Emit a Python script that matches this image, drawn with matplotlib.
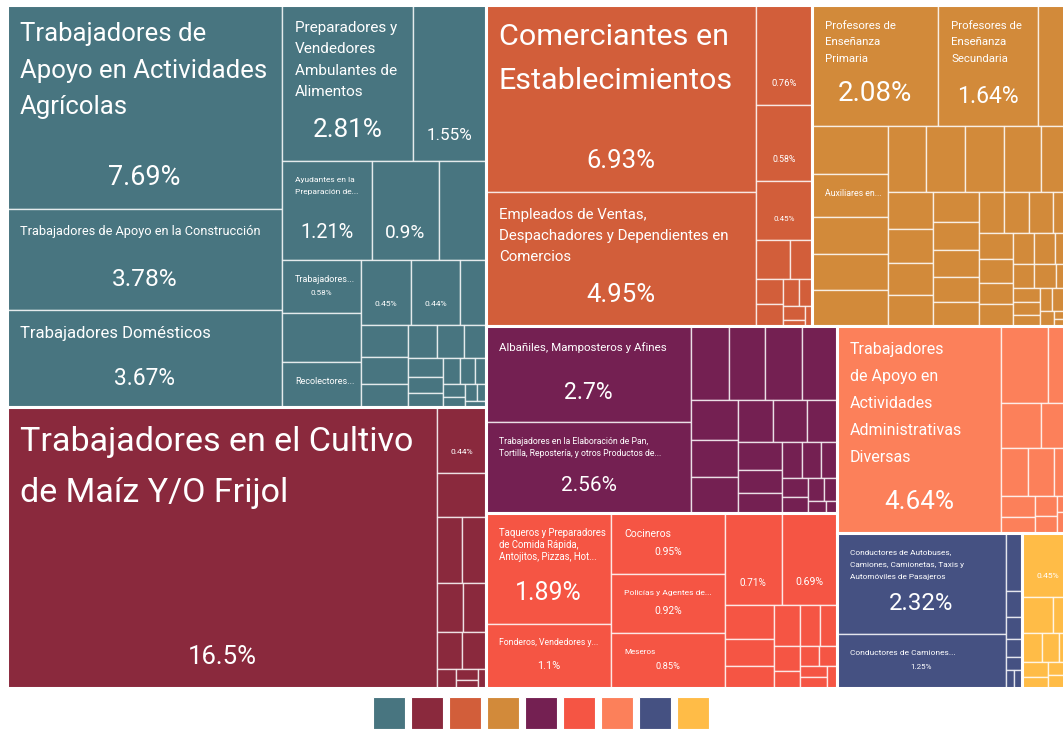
import matplotlib
matplotlib.use("Agg")
import matplotlib.pyplot as plt
from matplotlib.patches import Rectangle

# share of workers by occupation (%), one list per group, largest first
teal_values = [7.69, 3.78, 3.67, 2.81, 1.55, 1.21, 0.90, 0.64, 0.58, 0.53, 0.49, 0.45, 0.44,
               0.23, 0.20, 0.17, 0.15, 0.13, 0.12, 0.10, 0.09, 0.08, 0.07, 0.06, 0.05, 0.04,
               0.04, 0.03, 0.03, 0.02, 0.02]
teal_labels = ["Trabajadores de\nApoyo en Actividades\nAgrícolas",
               "Trabajadores de Apoyo en la Construcción",
               "Trabajadores Domésticos",
               "Preparadores y\nVendedores\nAmbulantes de\nAlimentos",
               "", "Ayudantes en la\nPreparación de...", "", "", "Trabajadores...", "",
               "Recolectores..."]

maiz_values = [16.5, 0.44, 0.30, 0.23, 0.21, 0.18, 0.155, 0.13, 0.12, 0.05, 0.03, 0.025, 0.02]
maiz_labels = ["Trabajadores en el Cultivo\nde Maíz Y/O Frijol"]

comercio_values = [6.93, 4.95, 0.76, 0.58, 0.45, 0.18, 0.12, 0.09, 0.08, 0.06, 0.05, 0.04,
                   0.02, 0.02]
comercio_labels = ["Comerciantes en\nEstablecimientos",
                   "Empleados de Ventas,\nDespachadores y Dependientes en\nComercios"]

profes_values = [2.08, 1.64, 0.60, 0.50, 0.45, 0.38, 0.38, 0.37, 0.35, 0.35, 0.35, 0.34, 0.30,
                 0.23, 0.21, 0.20, 0.19, 0.19, 0.18, 0.17, 0.16, 0.15, 0.14, 0.14, 0.13, 0.12,
                 0.12, 0.11, 0.10, 0.10, 0.09, 0.09, 0.08, 0.07, 0.07, 0.06, 0.05, 0.05, 0.04,
                 0.04, 0.04, 0.03, 0.03, 0.02, 0.02]
profes_labels = ["Profesores de\nEnseñanza\nPrimaria", "Profesores de\nEnseñanza\nSecundaria",
                 "", "", "Auxiliares en..."]

albanil_values = [2.7, 2.56, 0.38, 0.37, 0.37, 0.36, 0.25, 0.24, 0.23, 0.20, 0.19, 0.17, 0.17,
                  0.14, 0.12, 0.10, 0.09, 0.08, 0.07, 0.06, 0.05, 0.04, 0.03, 0.02]
albanil_labels = ["Albañiles, Mamposteros y Afines",
                  "Trabajadores en la Elaboración de Pan,\nTortilla, Repostería, y otros Productos de..."]

comida_values = [1.89, 1.1, 0.95, 0.92, 0.85, 0.71, 0.69, 0.23, 0.18, 0.15, 0.15, 0.11, 0.10,
                 0.09, 0.06, 0.05, 0.05, 0.04, 0.04, 0.03]
comida_labels = ["Taqueros y Preparadores\nde Comida Rápida,\nAntojitos, Pizzas, Hot...",
                 "Fonderos, Vendedores y...", "Cocineros", "Policías y Agentes de...", "Meseros"]

admin_values = [4.64, 0.50, 0.27, 0.25, 0.20, 0.18, 0.17, 0.13, 0.10, 0.08, 0.06, 0.05, 0.04,
                0.03, 0.02]
admin_labels = ["Trabajadores\nde Apoyo en\nActividades\nAdministrativas\nDiversas"]

conduct_values = [2.32, 1.25, 0.13, 0.06, 0.05, 0.04, 0.03, 0.02, 0.02]
conduct_labels = ["Conductores de Autobuses,\nCamiones, Camionetas, Taxis y\nAutomóviles de Pasajeros",
                  "Conductores de Camiones..."]

otros_values = [0.45, 0.15, 0.10, 0.08, 0.07, 0.06, 0.05, 0.04, 0.03, 0.03, 0.02, 0.01]
otros_labels = [""]

colors = ["#487580", "#8A293D", "#D25E3A", "#D28A3A", "#742052",
          "#F55544", "#FC805A", "#455182", "#FFBC47"]

groups = [(teal_values, teal_labels), (maiz_values, maiz_labels),
          (comercio_values, comercio_labels), (profes_values, profes_labels),
          (albanil_values, albanil_labels), (comida_values, comida_labels),
          (admin_values, admin_labels), (conduct_values, conduct_labels),
          (otros_values, otros_labels)]

# (group, leaf) -> (name size px, line step px, percent size px); None = not drawn
label_style = {
    (0, 0): (25.8, 36.5, 27), (0, 1): (12.7, 0, 24.5), (0, 2): (16.6, 0, 22.8),
    (0, 3): (15.2, 21.3, 26), (0, 4): (None, 0, 17), (0, 5): (8.4, 12, 20),
    (0, 6): (None, 0, 19), (0, 8): (9, 0, 8), (0, 10): (9, 0, None),
    (0, 11): (None, 0, 8.5), (0, 12): (None, 0, 8.5),
    (1, 0): (34, 51, 25.8), (1, 1): (None, 0, 8.5),
    (2, 0): (30.5, 44, 25.8), (2, 1): (15, 21, 25.8), (2, 2): (None, 0, 9.5),
    (2, 3): (None, 0, 8.8), (2, 4): (None, 0, 8),
    (3, 0): (11.4, 16.5, 27.7), (3, 1): (11.4, 16.5, 23), (3, 4): (8.8, 0, None),
    (4, 0): (11.5, 0, 23), (4, 1): (8.7, 12.5, 20.8),
    (5, 0): (9.7, 12, 25), (5, 1): (8.7, 0, 11), (5, 2): (10.4, 0, 10.3),
    (5, 3): (8.5, 0, 10.3), (5, 4): (8.2, 0, 9.3), (5, 5): (None, 0, 10),
    (5, 6): (None, 0, 10.5),
    (6, 0): (16, 27, 26),
    (7, 0): (8.3, 12.5, 24), (7, 1): (8.4, 0, 8),
    (8, 0): (None, 0, 8.5),
}

PHI = (1 + 5 ** 0.5) / 2


def squarify(values, x0, y0, x1, y1, ratio=PHI):
    # same row rule as d3.treemapSquarify
    rects = []
    n = len(values)
    total = float(sum(values))
    i0 = i1 = 0
    while i0 < n:
        dx, dy = x1 - x0, y1 - y0
        s = values[i1]
        i1 += 1
        vmin = vmax = s
        alpha = max(dy / dx, dx / dy) / (total * ratio)
        beta = s * s * alpha
        best = max(vmax / beta, beta / vmin)
        while i1 < n:
            v = values[i1]
            s += v
            vmin, vmax = min(vmin, v), max(vmax, v)
            beta = s * s * alpha
            r = max(vmax / beta, beta / vmin)
            if r > best:
                s -= v
                break
            best = r
            i1 += 1
        row = values[i0:i1]
        if dx < dy:
            yb = y0 + dy * s / total
            xx = x0
            for v in row:
                rects.append((xx, y0, xx + dx * v / s, yb))
                xx += dx * v / s
            y0 = yb
        else:
            xb = x0 + dx * s / total
            yy = y0
            for v in row:
                rects.append((x0, yy, xb, yy + dy * v / s))
                yy += dy * v / s
            x0 = xb
        total -= s
        i0 = i1
    return rects


W, H = 1063, 729
fig = plt.figure(figsize=(W / 100, H / 100), dpi=100)
ax = fig.add_axes([0, 0, 1, 1])
ax.set_xlim(0, W)
ax.set_ylim(H, 0)
ax.axis("off")

FONT = ["Roboto", "DejaVu Sans"]
PX = 0.72  # px -> pt at 100 dpi

box = (7, 5, 1074, 688)
totals = [sum(v) for v, _ in groups]
order = sorted(range(len(groups)), key=lambda g: -totals[g])
group_rects = squarify([totals[g] for g in order], *box)

for g, (gx0, gy0, gx1, gy1) in zip(order, group_rects):
    vals, names = groups[g]
    idx = sorted(range(len(vals)), key=lambda i: -vals[i])
    leaf_rects = squarify([vals[i] for i in idx], gx0, gy0, gx1, gy1)
    for i, (x0, y0, x1, y1) in zip(idx, leaf_rects):
        ax.add_patch(Rectangle((x0, y0), x1 - x0, y1 - y0, facecolor=colors[g],
                               edgecolor=(1, 1, 1, 0.75), lw=1.0))
        if (g, i) not in label_style:
            continue
        name_px, step, pct_px = label_style[(g, i)]
        if name_px and i < len(names) and names[i]:
            ty = y0 + 14 + 0.6 * name_px
            for line in names[i].split("\n"):
                ax.text(x0 + 13, ty, line, color="white", fontsize=name_px * PX,
                        family=FONT, ha="left", va="center")
                ty += step
        if pct_px:
            ax.text((x0 + x1) / 2, y1 - 16 - 0.58 * pct_px, f"{vals[i]:.3g}%",
                    color="white", fontsize=pct_px * PX, family=FONT,
                    ha="center", va="center")
    ax.add_patch(Rectangle((gx0, gy0), gx1 - gx0, gy1 - gy0, fill=False,
                           edgecolor="white", lw=2.2))

# colour legend under the chart
size, gap = 32, 6
lx = (box[0] + box[2]) / 2 - (len(colors) * size + (len(colors) - 1) * gap) / 2
for k, c in enumerate(colors):
    ax.add_patch(Rectangle((lx + k * (size + gap), 697), size, size, facecolor=c,
                           edgecolor="white", lw=0.8))

fig.savefig("out.png", dpi=100, facecolor="white")
